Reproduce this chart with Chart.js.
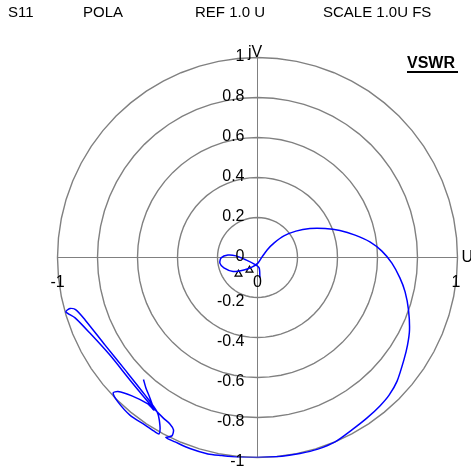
<!DOCTYPE html>
<html>
<head>
<meta charset="utf-8">
<script src="https://cdn.jsdelivr.net/npm/chart.js@4.4.1/dist/chart.umd.min.js"></script>
<style>
  body { margin: 0; background: #fff; }
  canvas { display: block; }
</style>
</head>
<body>
<canvas id="chart" width="471" height="468"></canvas>
<script>
// header texts
var headerTexts = ["S11", "POLA", "REF 1.0 U", "SCALE 1.0U FS"];
var headerX = [8, 83, 195, 323];

// grid circles (U units) and radial tick labels
var gridRadii = [0.2, 0.4, 0.6, 0.8, 1.0];
var vTicks = [1, 0.8, 0.6, 0.4, 0.2, 0, -0.2, -0.4, -0.6, -0.8, -1];
var vTickLabels = ["1", "0.8", "0.6", "0.4", "0.2", "0", "-0.2", "-0.4", "-0.6", "-0.8", "-1"];
var uTicks = [-1, 0, 1];
var uTickLabels = ["-1", "0", "1"];

// S11 trace, real (U) and imaginary (jV) parts
var traceU = [0.012, 0.008, -0.018, -0.058, -0.108, -0.148, -0.182, -0.188, -0.168, -0.122,
    -0.068, -0.028, 0.002, 0.022, 0.048, 0.082, 0.132, 0.192, 0.262, 0.338,
    0.412, 0.488, 0.562, 0.622, 0.672, 0.712, 0.738, 0.755, 0.760, 0.750,
    0.732, 0.698, 0.658, 0.612, 0.548, 0.472, 0.388, 0.302, 0.212, 0.112,
    -0.002, -0.088, -0.178, -0.248, -0.338, -0.412, -0.458, -0.428, -0.420, -0.438,
    -0.472, -0.538, -0.638, -0.738, -0.838, -0.912, -0.958, -0.938, -0.908, -0.862,
    -0.762, -0.662, -0.562, -0.502, -0.488, -0.492, -0.512, -0.562, -0.638, -0.698,
    -0.722, -0.698, -0.628, -0.548, -0.518, -0.538, -0.558, -0.570];
var traceV = [-0.102, -0.052, -0.032, -0.012, 0.008, 0.012, -0.002, -0.028, -0.052, -0.070,
    -0.062, -0.048, -0.028, 0.002, 0.038, 0.072, 0.108, 0.132, 0.145, 0.145,
    0.135, 0.112, 0.078, 0.032, -0.028, -0.102, -0.172, -0.262, -0.362, -0.438,
    -0.512, -0.618, -0.688, -0.742, -0.802, -0.862, -0.922, -0.958, -0.980, -0.995,
    -1.000, -0.999, -0.990, -0.982, -0.955, -0.922, -0.900, -0.892, -0.862, -0.832,
    -0.802, -0.732, -0.612, -0.488, -0.378, -0.302, -0.272, -0.255, -0.262, -0.312,
    -0.438, -0.562, -0.688, -0.772, -0.838, -0.882, -0.872, -0.838, -0.788, -0.722,
    -0.678, -0.670, -0.692, -0.732, -0.762, -0.702, -0.652, -0.610];

// marker positions
var markerU = [-0.095, -0.040];
var markerV = [-0.083, -0.063];

var traceData = traceU.map(function (u, i) { return { x: u, y: traceV[i] }; });
var markerData = markerU.map(function (u, i) { return { x: u, y: markerV[i] }; });

var FONT = "Arial, 'Liberation Sans', sans-serif";

var polarGrid = {
    id: "polarGrid",
    beforeDatasetsDraw: function (chart) {
        var c = chart.ctx, xs = chart.scales.x, ys = chart.scales.y;
        c.save();
        c.strokeStyle = "#808080";
        c.lineWidth = 1.4;
        gridRadii.forEach(function (r) {
            c.beginPath();
            for (var k = 0; k <= 64; k++) {
                var t = k / 64 * Math.PI * 2;
                var px = xs.getPixelForValue(r * Math.cos(t));
                var py = ys.getPixelForValue(r * Math.sin(t));
                if (k === 0) c.moveTo(px, py); else c.lineTo(px, py);
            }
            c.stroke();
        });
        c.lineWidth = 1;
        c.beginPath();
        c.moveTo(xs.getPixelForValue(-1), ys.getPixelForValue(0));
        c.lineTo(xs.getPixelForValue(1), ys.getPixelForValue(0));
        c.moveTo(xs.getPixelForValue(0), ys.getPixelForValue(-1));
        c.lineTo(xs.getPixelForValue(0), ys.getPixelForValue(1));
        c.stroke();
        c.restore();
    },
    afterDraw: function (chart) {
        var c = chart.ctx, xs = chart.scales.x, ys = chart.scales.y;
        var x0 = xs.getPixelForValue(0), y0 = ys.getPixelForValue(0);
        c.save();
        c.fillStyle = "#000";
        c.font = "15px " + FONT;
        c.textBaseline = "alphabetic";
        c.textAlign = "left";
        headerTexts.forEach(function (t, i) { c.fillText(t, headerX[i], 17); });

        // jV tick labels
        c.font = "16px " + FONT;
        c.textAlign = "right";
        c.textBaseline = "middle";
        vTicks.forEach(function (v, i) {
            var py = ys.getPixelForValue(v) + (v < 0 ? 4 : -1);
            c.fillText(vTickLabels[i], x0 - 13, py);
        });
        // U tick labels
        c.textAlign = "center";
        uTicks.forEach(function (u, i) {
            c.fillText(uTickLabels[i], xs.getPixelForValue(u) - (u === 1 ? 1.5 : 0), y0 + 25);
        });
        // axis names
        c.textAlign = "left";
        c.fillText("U", xs.getPixelForValue(1) + 4, y0);
        c.textBaseline = "alphabetic";
        c.fillText("jV", x0 - 9.5, ys.getPixelForValue(1) - 1);

        // VSWR
        c.font = "bold 16px " + FONT;
        c.fillText("VSWR", 407, 68);
        c.fillRect(407, 71, 51, 2);
        c.restore();
    }
};

new Chart(document.getElementById("chart").getContext("2d"), {
    type: "scatter",
    data: {
        datasets: [{
            label: "S11",
            data: traceData,
            showLine: true,
            borderColor: "#0000ff",
            borderWidth: 1.5,
            tension: 0.25,
            pointRadius: 0
        }, {
            label: "markers",
            data: markerData,
            showLine: false,
            pointStyle: "triangle",
            pointRadius: 4,
            borderColor: "#000",
            borderWidth: 1.2,
            backgroundColor: "rgba(0,0,0,0)"
        }]
    },
    options: {
        responsive: false,
        animation: false,
        layout: {
            padding: { left: 57.5, right: 13.5, top: 57.5, bottom: 10.5 }
        },
        plugins: {
            legend: { display: false },
            tooltip: { enabled: false }
        },
        scales: {
            x: { type: "linear", min: -1, max: 1, display: false },
            y: { type: "linear", min: -1, max: 1, display: false }
        }
    },
    plugins: [polarGrid]
});
</script>
</body>
</html>
